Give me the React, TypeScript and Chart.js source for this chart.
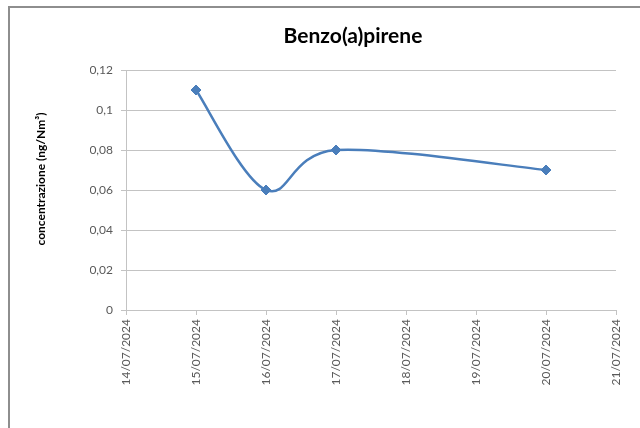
import React, { useEffect, useRef } from "react";
import { Chart, registerables } from "chart.js";

Chart.register(...registerables);

const chartTitle = "Benzo(a)pirene";
const yAxisTitle = "concentrazione (ng/Nm³)";
// sampling days (July 2024) and measured values
const sampleDays = [15, 16, 17, 20];
const sampleValues = [0.11, 0.06, 0.08, 0.07];
// x-axis tick labels (days 14..21)
const tickDays = [14, 15, 16, 17, 18, 19, 20, 21];
const tickLabels = [
  "14/07/2024",
  "15/07/2024",
  "16/07/2024",
  "17/07/2024",
  "18/07/2024",
  "19/07/2024",
  "20/07/2024",
  "21/07/2024",
];
const yMin = 0;
const yMax = 0.12;
const yStep = 0.02;

const LINE_COLOR = "#4a7ebb";
const GRID_COLOR = "#c3c3c3";
const TICK_COLOR = "#595959";
const FONT = "Lato, 'Open Sans', sans-serif";

export default function App() {
  const ref = useRef<HTMLCanvasElement | null>(null);

  useEffect(() => {
    if (!ref.current) return;
    const yTitlePlugin = {
      id: "yTitle",
      afterDraw(chart: any) {
        const { ctx, chartArea } = chart;
        ctx.save();
        ctx.font = `bold 12px ${FONT}`;
        ctx.fillStyle = "#000000";
        ctx.textAlign = "center";
        ctx.textBaseline = "middle";
        ctx.translate(31, chartArea.top + chartArea.height / 2 - 11);
        ctx.rotate(-Math.PI / 2);
        ctx.fillText(yAxisTitle, 0, 0);
        ctx.restore();
      },
    };

    // Office-style smoothing: uniform Catmull-Rom control points
    const smoothPlugin = {
      id: "officeSmooth",
      beforeDatasetDraw(chart: any, args: any) {
        const meta = args.meta;
        const line = meta.dataset;
        if (!line) return;
        line.updateControlPoints(chart.chartArea, "x");
        const pts = meta.data;
        const n = pts.length;
        for (let i = 0; i < n; i++) {
          const p = pts[i];
          const prev = pts[Math.max(0, i - 1)];
          const next = pts[Math.min(n - 1, i + 1)];
          const dx = (next.x - prev.x) / 6;
          const dy = (next.y - prev.y) / 6;
          p.cp1x = p.x - dx;
          p.cp1y = p.y - dy;
          p.cp2x = p.x + dx;
          p.cp2y = p.y + dy;
        }
      },
    };

    const chart = new Chart(ref.current, {
      type: "line",
      data: {
        datasets: [
          {
            data: sampleDays.map((d, i) => ({ x: d, y: sampleValues[i] })),
            borderColor: LINE_COLOR,
            backgroundColor: LINE_COLOR,
            borderWidth: 2.5,
            pointStyle: "rectRot",
            pointRadius: 5,
            pointBorderWidth: 1,
            pointBorderColor: LINE_COLOR,
            pointBackgroundColor: LINE_COLOR,
            tension: 0.4,
            capBezierPoints: false,
            fill: false,
          },
        ],
      },
      options: {
        responsive: false,
        animation: false,
        layout: { padding: { left: 80, right: 80, top: 0, bottom: 38 } },
        plugins: {
          legend: { display: false },
          tooltip: { enabled: false },
          title: {
            display: true,
            text: chartTitle,
            color: "#000000",
            font: { family: FONT, size: 21, weight: "bold", lineHeight: 1.2 },
            padding: { top: 16, bottom: 20.8 },
          },
        },
        scales: {
          x: {
            type: "linear",
            min: tickDays[0],
            max: tickDays[tickDays.length - 1],
            afterBuildTicks: (scale: any) => {
              scale.ticks = tickDays.map((v) => ({ value: v }));
            },
            afterFit: (scale: any) => {
              scale.height = 80;
            },
            ticks: {
              autoSkip: false,
              minRotation: 90,
              maxRotation: 90,
              padding: 4,
              color: TICK_COLOR,
              font: { family: FONT, size: 12 },
              callback: (v: any) => {
                const idx = tickDays.indexOf(Number(v));
                return idx >= 0 ? tickLabels[idx] : "";
              },
            },
            grid: {
              display: true,
              drawOnChartArea: false,
              drawTicks: true,
              tickLength: 5,
              color: GRID_COLOR,
            },
            border: { display: true, color: GRID_COLOR, width: 1 },
          },
          y: {
            min: yMin,
            max: yMax,
            afterFit: (scale: any) => {
              scale.width = 36;
            },
            ticks: {
              stepSize: yStep,
              padding: 8,
              color: TICK_COLOR,
              font: { family: FONT, size: 12 },
              callback: (v: any) =>
                Number(Number(v).toFixed(2)).toString().replace(".", ","),
            },
            grid: {
              color: GRID_COLOR,
              tickLength: 5,
              drawTicks: true,
            },
            border: { display: true, color: GRID_COLOR, width: 1 },
            title: { display: false },
          },
        },
      },
      plugins: [yTitlePlugin, smoothPlugin],
    } as any);
    return () => chart.destroy();
  }, []);

  return (
    <div
      style={{
        position: "absolute",
        left: 0,
        top: 0,
        width: 640,
        height: 428,
        overflow: "hidden",
        background: "#ffffff",
      }}
    >
      <div
        style={{
          position: "absolute",
          left: 8,
          top: 6,
          width: 720,
          height: 460,
          borderLeft: "2px solid #8e8e8e",
          borderTop: "2px solid #8e8e8e",
          boxSizing: "border-box",
        }}
      />
      <canvas
        ref={ref}
        width={686}
        height={420}
        style={{ position: "absolute", left: 10, top: 8, width: 686, height: 420 }}
      />
    </div>
  );
}
